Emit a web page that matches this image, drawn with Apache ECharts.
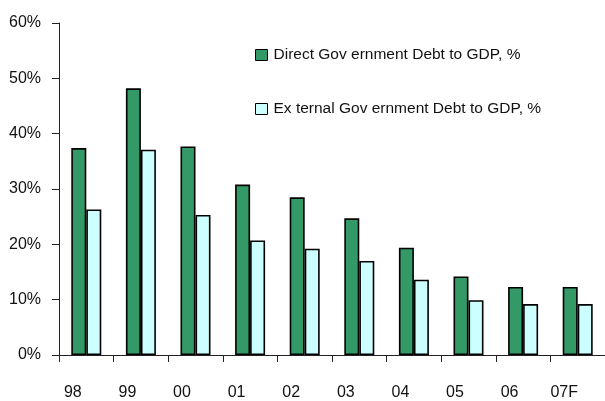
<!DOCTYPE html>
<html>
<head>
<meta charset="utf-8">
<script src="https://cdn.jsdelivr.net/npm/echarts@6/dist/echarts.min.js"></script>
<style>
  html, body { margin: 0; padding: 0; background: #fff; }
  #chart { width: 605px; height: 401px; }
</style>
</head>
<body>
<div id="chart"></div>
<script>
// Years on the category axis
const years = ['98', '99', '00', '01', '02', '03', '04', '05', '06', '07F'];
// Government debt ratios, % of GDP
const directDebt = [37.4, 48.2, 37.7, 30.8, 28.5, 24.7, 19.4, 14.2, 12.3, 12.3];
const externalDebt = [26.3, 37.1, 25.3, 20.7, 19.2, 17.0, 13.6, 9.9, 9.2, 9.2];
// Value axis ticks
const yTicks = [0, 10, 20, 30, 40, 50, 60];

const seriesNames = ['Direct Gov ernment Debt to GDP, %', 'Ex ternal Gov ernment Debt to GDP, %'];
const font = 'Liberation Sans, Arial, sans-serif';

const chart = echarts.init(document.getElementById('chart'), null, { renderer: 'canvas' });
chart.setOption({
  animation: false,
  backgroundColor: '#ffffff',
  textStyle: { fontFamily: font },
  grid: { left: 59, top: 23, height: 333, width: 553 },
  legend: {
    orient: 'vertical',
    left: 250,
    top: 42,
    itemWidth: 12,
    itemHeight: 11,
    itemGap: 38,
    icon: 'rect',
    itemStyle: { borderColor: '#000', borderWidth: 1 },
    textStyle: { fontFamily: font, fontSize: 15.5, color: '#111', padding: [0, 0, 0, 1] },
    data: seriesNames
  },
  xAxis: {
    type: 'category',
    data: years,
    axisLine: { show: true, lineStyle: { color: '#222', width: 1 } },
    axisTick: { show: true, length: 7, inside: false, lineStyle: { color: '#222' } },
    axisLabel: {
      fontFamily: font, fontSize: 16, color: '#111', margin: 30,
      padding: [0, 27, 0, 0]
    },
    splitLine: { show: false }
  },
  yAxis: {
    type: 'value',
    min: yTicks[0],
    max: yTicks[yTicks.length - 1],
    interval: 10,
    axisLine: { show: true, lineStyle: { color: '#222', width: 1 } },
    axisTick: { show: true, length: 7, lineStyle: { color: '#222' } },
    axisLabel: { fontFamily: font, fontSize: 16, color: '#111', margin: 18, formatter: '{value}%' },
    splitLine: { show: false }
  },
  series: [
    {
      name: seriesNames[0],
      type: 'bar',
      data: directDebt,
      barWidth: 15,
      barGap: '0%',
      itemStyle: { color: '#339966', borderColor: '#000', borderWidth: 1.6 }
    },
    {
      name: seriesNames[1],
      type: 'bar',
      data: externalDebt,
      barWidth: 15,
      barGap: '0%',
      itemStyle: { color: '#ccffff', borderColor: '#000', borderWidth: 1.6 }
    }
  ]
});
</script>
</body>
</html>
